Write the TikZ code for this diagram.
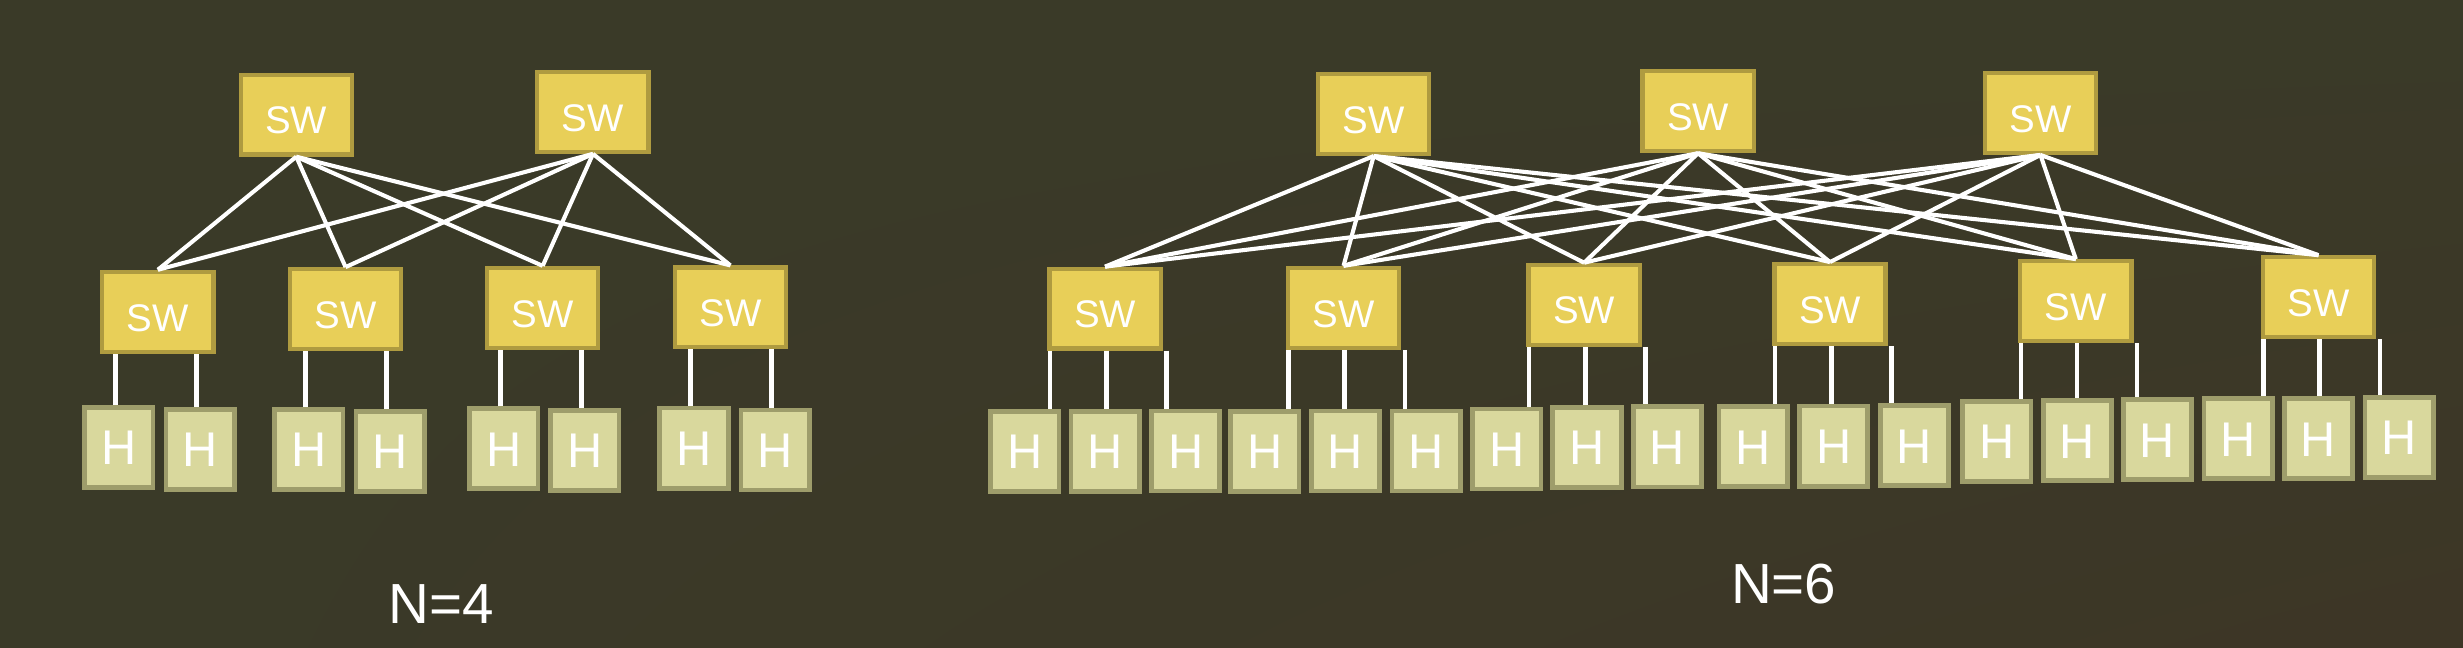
\documentclass[tikz,border=0pt]{standalone}
\usepackage{fontspec}
\setmainfont{Liberation Sans}
\usetikzlibrary{shadings}
\definecolor{bgA}{HTML}{3A3A28}
\definecolor{bgB}{HTML}{3D3626}
\definecolor{swfill}{HTML}{E8CF58}
\definecolor{swline}{HTML}{AF9B40}
\definecolor{hfill}{HTML}{D9D89D}
\definecolor{hline}{HTML}{9E9D6B}
\begin{document}
\begin{tikzpicture}[x=1pt,y=-1pt,
  swbox/.style={rectangle, draw=swline, fill=swfill, line width=2.7pt,
    minimum width=70.8pt, minimum height=50.8pt, inner sep=0pt, text=white,
    font=\fontsize{24.5}{28}\selectfont, text height=24.5pt, text depth=0pt},
  hbox/.style={rectangle, draw=hline, fill=hfill, line width=3pt,
    minimum width=43.5pt, minimum height=51pt, inner sep=0pt, text=white,
    font=\fontsize{31}{36}\selectfont, text height=22.2pt, text depth=0pt},
  link/.style={draw=white, line width=2.6pt},
  hlink/.style={draw=white, line width=2.9pt},
  caption/.style={text=white, font=\fontsize{36}{40}\selectfont, inner sep=0pt}]
\useasboundingbox (0,0) rectangle (1568,412.5);
\shade[upper left=bgA, upper right=bgA, lower left=bgA, lower right=bgB] (0,0) rectangle (1568,412.5);

% ---------- N=4 ----------
\node[swbox] (lt1) at (188.6,73) {SW};
\node[swbox] (lt2) at (377.5,71.2) {SW};
\node[swbox] (lm1) at (100.5,198.5) {SW};
\node[swbox] (lm2) at (220,196.8) {SW};
\node[swbox] (lm3) at (345.5,196) {SW};
\node[swbox] (lm4) at (465,195.7) {SW};
\foreach \i/\x/\y in {1/75.7/284.8, 2/127.4/286.1, 3/196.6/286.1, 4/248.4/287.4,
                      5/320.8/285.7, 6/372.4/286.7, 7/441.8/285.3, 8/493.4/286.5}
  \node[hbox] (lh\i) at (\x,\y) {H};
\foreach \t in {1,2}
  \foreach \m in {1,2,3,4}
    \draw[link] (lt\t.south) -- (lm\m.north);
\foreach \h/\m in {1/1,2/1,3/2,4/2,5/3,6/3,7/4,8/4}
  \draw[hlink] ([xshift=-2.2pt]lh\h.north) -- ([xshift=-2.2pt]lh\h.north |- lm\m.south);
\node[caption] (n4) at (281,384.5) {N=4};

% ---------- N=6 ----------
\node[swbox] (rt1) at (874.5,72.6) {SW};
\node[swbox] (rt2) at (1081,70.8) {SW};
\node[swbox] (rt3) at (1299,71.9) {SW};
\node[swbox] (rm1) at (703.5,196.5) {SW};
\node[swbox] (rm2) at (855.3,196) {SW};
\node[swbox] (rm3) at (1008.5,194) {SW};
\node[swbox] (rm4) at (1165,193.6) {SW};
\node[swbox] (rm5) at (1321.5,191.7) {SW};
\node[swbox] (rm6) at (1476,189.2) {SW};
\foreach \i/\x/\y in {1/652.5/287.4, 2/703.5/287.4, 3/754.8/287.1, 4/805.3/287.4,
                      5/856.5/287.1, 6/908/287.1, 7/959.3/285.8, 8/1010.3/284.8,
                      9/1061.5/284.5, 10/1116/284.3, 11/1167.3/284, 12/1218.8/283.8,
                      13/1271.3/280.9, 14/1322.5/280.5, 15/1373.5/279.9,
                      16/1424.8/279.3, 17/1476/279.2, 18/1527.4/278.5}
  \node[hbox] (rh\i) at (\x,\y) {H};
\foreach \t in {1,2,3}
  \foreach \m in {1,...,6}
    \draw[link] (rt\t.south) -- (rm\m.north);
\foreach \m in {1,...,6}{
  \pgfmathtruncatemacro{\ha}{3*\m-2}
  \pgfmathtruncatemacro{\hb}{3*\m-1}
  \pgfmathtruncatemacro{\hc}{3*\m}
  \draw[hlink] ([xshift=-35pt]rm\m.south) -- ([xshift=-35pt]rm\m.south |- rh\ha.north);
  \draw[hlink] ([xshift=0.8pt]rm\m.south) -- ([xshift=0.8pt]rm\m.south |- rh\hb.north);
  \draw[hlink] ([xshift=39pt]rm\m.south) -- ([xshift=39pt]rm\m.south |- rh\hc.north);
}
\node[caption] (n6) at (1135.5,372) {N=6};
\end{tikzpicture}
\end{document}
